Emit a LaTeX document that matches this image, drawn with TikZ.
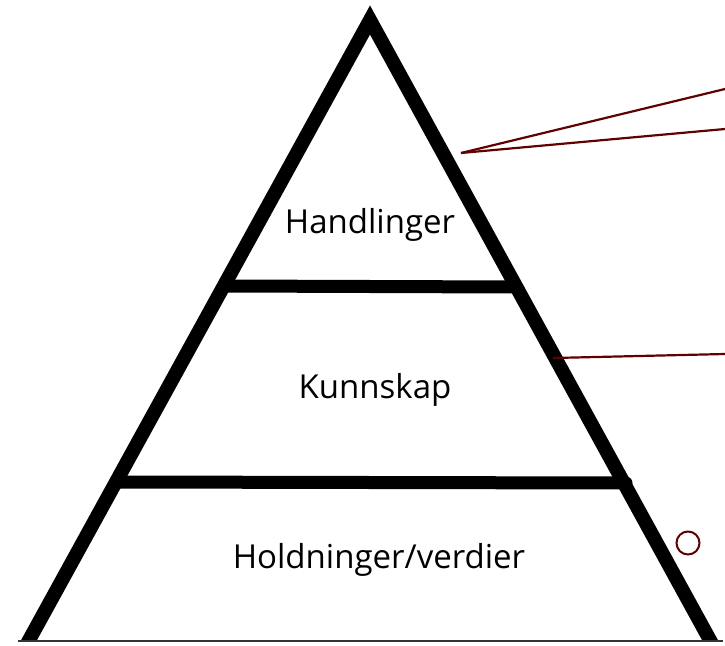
\documentclass[tikz,border=0pt]{standalone}
\usepackage{fontspec}
\setmainfont{Open Sans}
\usepackage{xcolor}
\usetikzlibrary{positioning}
\definecolor{linjerod}{RGB}{96,0,0}

\begin{document}
\begin{tikzpicture}[x=1pt,y=-1pt,
  side/.style={line width=14pt,line join=miter},
  bar/.style={line width=13pt},
  pointer/.style={draw=linjerod,line width=2.2pt},
  lbl/.style={anchor=base,inner sep=0pt,font=\fontsize{33}{38}\selectfont}]
\useasboundingbox (0,0) rectangle (725,645);
\coordinate (L) at (22.5,652);
\coordinate (T) at (370,20);
\coordinate (R) at (716.5,652);
\begin{scope}
\clip (0,0) rectangle (725,641);
\draw[side] (L) -- (T) -- (R);
\end{scope}
\draw[line width=2pt,black!80] (18,641) -- (723,641);
% levels
\coordinate (b1l) at (226,286);
\coordinate (b1r) at (516,287);
\coordinate (b2l) at (119,482);
\coordinate (b2r) at (630,483);
\draw[bar] (b1l) -- (b1r);
\draw[bar,line cap=round] (b2l) -- ([xshift=-4pt]b2r);
\node[lbl] (hand) at (370,233) {Handlinger};
\node[lbl] (kunn) at (375,398) {Kunnskap};
\node[lbl] (hold) at (379,568) {Holdninger/verdier};
% pointers
\coordinate (p1) at (461,153);
\coordinate (e1) at (725,89);
\coordinate (e2) at (725,129);
\coordinate (p2) at (553,358);
\coordinate (e3) at (725,354);
\path[pointer]
(p1) edge (e1)
(p1) edge (e2)
(p2) edge (e3);
\node[draw=linjerod,line width=2pt,circle,minimum size=23pt,inner sep=0pt] (ring) at (688,543) {};
\end{tikzpicture}
\end{document}
